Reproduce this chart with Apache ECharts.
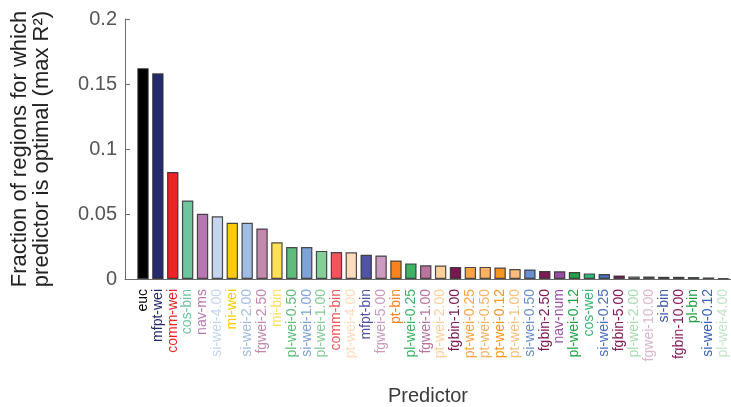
<!DOCTYPE html>
<html>
<head>
<meta charset="utf-8">
<script src="https://cdn.jsdelivr.net/npm/echarts@6/dist/echarts.min.js"></script>
<style>
  html, body { margin: 0; padding: 0; background: #fff; }
  #chart { width: 731px; height: 407px; }
</style>
</head>
<body>
<div id="chart"></div>
<script>
// Predictors, ordered by how often each is the best one
const predictors = [
  'euc', 'mfpt-wei', 'comm-wei', 'cos-bin', 'nav-ms', 'si-wei-4.00', 'mi-wei', 'si-wei-2.00',
  'fgwei-2.50', 'mi-bin', 'pl-wei-0.50', 'si-wei-1.00', 'pl-wei-1.00', 'comm-bin', 'pt-wei-4.00',
  'mfpt-bin', 'fgwei-5.00', 'pt-bin', 'pl-wei-0.25', 'fgwei-1.00', 'pt-wei-2.00', 'fgbin-1.00',
  'pt-wei-0.25', 'pt-wei-0.50', 'pt-wei-0.12', 'pt-wei-1.00', 'si-wei-0.50', 'fgbin-2.50',
  'nav-num', 'pl-wei-0.12', 'cos-wei', 'si-wei-0.25', 'fgbin-5.00', 'pl-wei-2.00', 'fgwei-10.00',
  'si-bin', 'fgbin-10.00', 'pl-bin', 'si-wei-0.12', 'pl-wei-4.00'
];

// Fraction of regions for which each predictor gives the max R²
const fractions = [
  0.1622, 0.1582, 0.0823, 0.0603, 0.0502, 0.0483, 0.0433, 0.0432,
  0.0389, 0.0283, 0.0246, 0.0246, 0.0216, 0.0207, 0.0206,
  0.0186, 0.0181, 0.0142, 0.0120, 0.0106, 0.0104, 0.0093,
  0.0093, 0.0093, 0.0088, 0.0076, 0.0073, 0.0062,
  0.0060, 0.0053, 0.0043, 0.0039, 0.0027, 0.0020, 0.0019,
  0.0017, 0.0017, 0.0015, 0.0012, 0.0005
];

// One colour per predictor, shared by its bar and its label
const predictorColors = [
  '#000000', '#262a6e', '#ee2326', '#6ec6a1', '#b777b3', '#c4d5ed', '#ffcc05', '#a2bde3',
  '#c48aad', '#fde05a', '#5fbc7d', '#7fa3d9', '#85cd99', '#f0555b', '#ffdcbb',
  '#5153a5', '#cb9bc0', '#f7821f', '#3cb365', '#b9749f', '#ffcf9a', '#7b1750',
  '#f9a441', '#fbb162', '#f8961f', '#fdbd7a', '#6a8fcf', '#801a55',
  '#9a4ea4', '#23a24a', '#36b677', '#4d70bd', '#821b57', '#a8dbb3', '#dbb7cf',
  '#3c58a8', '#8a1e5c', '#1f9c42', '#3a64b4', '#c2e6c9'
];

const yTicks = [0, 0.05, 0.1, 0.15, 0.2];

const FONT = '"Liberation Sans", Arial, Helvetica, sans-serif';
const chart = echarts.init(document.getElementById('chart'), null, { renderer: 'canvas' });

const yMin = yTicks[0], yMax = yTicks[yTicks.length - 1];
const yStep = yTicks[1] - yTicks[0];

chart.setOption({
  animation: false,
  backgroundColor: '#ffffff',
  grid: [
    // frame: y axis and baseline
    { left: 125, right: 0, top: 19, bottom: 128, outerBoundsMode: 'none', containLabel: false },
    // bars
    { left: 135.56, width: 595.2, top: 19, bottom: 128, outerBoundsMode: 'none', containLabel: false }
  ],
  xAxis: [
    {
      gridIndex: 0, type: 'value', min: 0, max: 1,
      axisLine: { show: true, lineStyle: { color: '#6b6b6b', width: 1 } },
      axisTick: { show: false }, axisLabel: { show: false }, splitLine: { show: false },
      name: 'Predictor', nameLocation: 'middle', nameGap: 107,
      nameTextStyle: { fontFamily: FONT, fontSize: 20, color: '#3a3a3a' }
    },
    {
      gridIndex: 1, type: 'category', data: predictors,
      axisLine: { show: false }, axisTick: { show: false }, splitLine: { show: false },
      axisLabel: {
        interval: 0, rotate: 90, margin: 10,
        fontFamily: FONT, fontSize: 14,
        color: (value, index) => predictorColors[index]
      }
    }
  ],
  yAxis: [
    {
      gridIndex: 0, type: 'value', min: yMin, max: yMax, interval: yStep,
      axisLine: { show: true, lineStyle: { color: '#6b6b6b', width: 1 } },
      axisTick: { show: true, inside: true, length: 5, lineStyle: { color: '#6b6b6b' } },
      splitLine: { show: false },
      axisLabel: {
        margin: 8, fontFamily: FONT, fontSize: 20, color: '#555555',
        formatter: v => String(parseFloat(v.toFixed(4)))
      },
      name: 'Fraction of regions for which\npredictor is optimal (max R²)',
      nameLocation: 'middle', nameGap: 72, nameRotate: 90,
      nameTextStyle: { fontFamily: FONT, fontSize: 22, color: '#222222', lineHeight: 22 }
    },
    {
      gridIndex: 1, type: 'value', min: yMin, max: yMax, interval: yStep,
      show: false, splitLine: { show: false }
    }
  ],
  series: [{
    type: 'bar',
    xAxisIndex: 1, yAxisIndex: 1,
    barWidth: 11.4,
    data: fractions.map((v, i) => ({
      value: v,
      itemStyle: { color: predictorColors[i] }
    })),
    itemStyle: { borderColor: 'rgba(45,45,45,0.85)', borderWidth: 1.2 }
  }]
});
</script>
</body>
</html>
